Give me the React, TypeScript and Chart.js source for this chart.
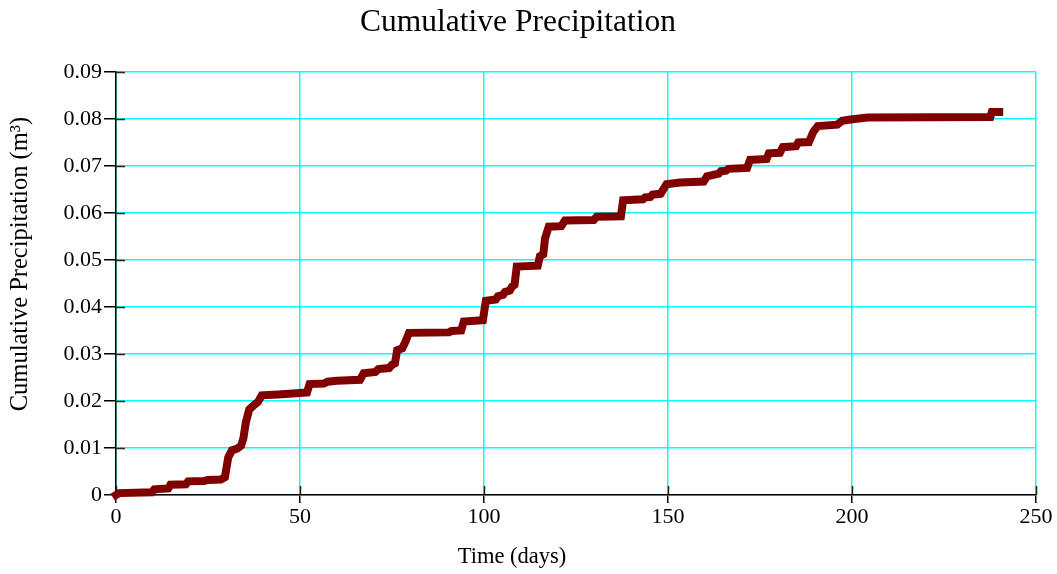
import React, { useEffect, useRef } from "react";
import { Chart, registerables } from "chart.js";

Chart.register(...registerables);

const TITLE = "Cumulative Precipitation";
const X_TITLE = "Time (days)";
const Y_TITLE = "Cumulative Precipitation (m\u00B3)";

const days: number[] = [
  0, 0.8, 9.8, 10.4, 14.2, 14.8, 19.0, 19.6, 24, 25, 28.5, 29.6, 30.5, 31.5, 33, 34, 34.6,
  35.3, 36.2, 37.6, 38.6, 39.6, 44, 48, 51.9, 52.6, 56.5, 57.5, 60, 66.3, 67.3, 70.5, 71.3,
  74.2, 75, 75.8, 76.4, 77.8, 78.6, 79.6, 90.5, 91.2, 93.8, 94.5, 99.7, 100.5, 103.2, 103.8,
  105.2, 105.7, 107.0, 107.6, 108.3, 108.9, 114.6, 115.2, 116.1, 116.6, 117.6, 121, 122,
  129.8, 130.6, 137.2, 137.8, 143.2, 143.8, 145.2, 145.8, 148, 149.6, 153.3, 159.7, 160.6,
  163.8, 164.4, 165.8, 166.4, 171.5, 172.3, 176.8, 177.4, 180.4, 181.2, 184.8, 185.4,
  188.3, 189.5, 190.7, 196, 197.3, 199.6, 204.2, 237.6, 238, 240,
];

const precip: number[] = [
  0, 0.0004, 0.0006, 0.0012, 0.0014, 0.0022, 0.0023, 0.0029, 0.003, 0.0032, 0.0033, 0.0038,
  0.008, 0.0095, 0.0099, 0.0105, 0.012, 0.0155, 0.0182, 0.0192, 0.0198, 0.0212, 0.0214,
  0.0216, 0.0218, 0.0236, 0.0237, 0.0241, 0.0243, 0.0245, 0.0259, 0.0262, 0.0268, 0.027,
  0.0277, 0.028, 0.0308, 0.0312, 0.0325, 0.0345, 0.0346, 0.0349, 0.035, 0.0369, 0.0372,
  0.0413, 0.0416, 0.0423, 0.0426, 0.0432, 0.0435, 0.0443, 0.0447, 0.0486, 0.0488, 0.0508,
  0.0512, 0.0546, 0.0571, 0.0572, 0.0584, 0.0585, 0.0592, 0.0593, 0.0627, 0.0629, 0.0633,
  0.0634, 0.0639, 0.0641, 0.0661, 0.0665, 0.0667, 0.0678, 0.0684, 0.0689, 0.069, 0.0694,
  0.0696, 0.0713, 0.0715, 0.0727, 0.0728, 0.074, 0.0742, 0.075, 0.0751, 0.0773, 0.0785,
  0.0788, 0.0796, 0.0799, 0.0803, 0.0804, 0.0815, 0.0815,
];

const X_MIN = 0;
const X_MAX = 250;
const X_STEP = 50;
const Y_MIN = 0;
const Y_MAX = 0.09;
const Y_STEP = 0.01;

const SERIF = '"Liberation Serif", "Times New Roman", serif';

export default function App() {
  const ref = useRef<HTMLCanvasElement | null>(null);

  useEffect(() => {
    if (!ref.current) return;
    const points = days.map((d, i) => ({ x: d, y: precip[i] }));

    const extras = {
      id: "extras",
      beforeDatasetsDraw(chart: any) {
        const { ctx, chartArea, scales } = chart;
        ctx.save();
        ctx.strokeStyle = "#222";
        ctx.lineWidth = 1.5;
        ctx.beginPath();
        scales.x.ticks.forEach((t: any) => {
          const px = Math.round(scales.x.getPixelForValue(t.value)) + 0.5;
          ctx.moveTo(px, chartArea.bottom);
          ctx.lineTo(px, chartArea.bottom - 9);
        });
        scales.y.ticks.forEach((t: any) => {
          const py = Math.round(scales.y.getPixelForValue(t.value)) + 0.5;
          ctx.moveTo(chartArea.left, py);
          ctx.lineTo(chartArea.left + 9, py);
        });
        ctx.stroke();
        ctx.restore();
      },
      afterDraw(chart: any) {
        const { ctx } = chart;
        ctx.save();
        ctx.fillStyle = "#000";
        ctx.textAlign = "center";
        ctx.textBaseline = "middle";
        ctx.font = `22.5px ${SERIF}`;
        ctx.fillText(X_TITLE, 512, 557);
        ctx.translate(21, 264);
        ctx.rotate(-Math.PI / 2);
        ctx.font = `24.5px ${SERIF}`;
        ctx.fillText(Y_TITLE, 0, 0);
        ctx.restore();
      },
    };

    const chart = new Chart(ref.current, {
      type: "line",
      data: {
        datasets: [
          {
            data: points,
            borderColor: "#800000",
            backgroundColor: "#800000",
            borderWidth: 8,
            pointRadius: 0,
            tension: 0,
            borderJoinStyle: "miter",
            borderCapStyle: "square",
            clip: false as any,
          },
        ],
      },
      options: {
        responsive: false,
        animation: false,
        devicePixelRatio: 1,
        layout: { padding: { left: 0, right: 21, top: 0, bottom: 0 } },
        plugins: {
          legend: { display: false },
          tooltip: { enabled: false },
          title: {
            display: true,
            text: TITLE,
            color: "#000",
            font: { family: SERIF, size: 31.5, weight: "normal" },
            padding: { top: 4, bottom: 30.2 },
          },
        },
        scales: {
          x: {
            type: "linear",
            min: X_MIN,
            max: X_MAX,
            afterFit(scale: any) {
              scale.height = 79;
            },
            ticks: {
              stepSize: X_STEP,
              color: "#000",
              padding: 1,
              maxRotation: 0,
              font: { family: SERIF, size: 22 },
            },
            grid: {
              color: "#00ffff",
              lineWidth: 1.5,
              tickLength: 8,
              tickColor: "#000",
              tickWidth: 1.5,
            },
            border: { display: true, color: "#000", width: 1.5 },
          },
          y: {
            type: "linear",
            min: Y_MIN,
            max: Y_MAX,
            afterFit(scale: any) {
              scale.width = 116;
            },
            ticks: {
              stepSize: Y_STEP,
              color: "#000",
              padding: 2,
              font: { family: SERIF, size: 22 },
              callback: (v: any) => {
                const n = Number(v);
                return n === 0 ? "0" : n.toFixed(2);
              },
            },
            grid: {
              color: "#00ffff",
              lineWidth: 1.5,
              tickLength: 12,
              tickColor: "#000",
              tickWidth: 1.5,
            },
            border: { display: true, color: "#000", width: 1.5 },
          },
        },
      },
      plugins: [extras],
    } as any);

    return () => chart.destroy();
  }, []);

  return (
    <div style={{ position: "fixed", left: 0, top: 0, width: 1057, height: 574, background: "#fff" }}>
      <canvas ref={ref} width={1057} height={574} />
    </div>
  );
}
